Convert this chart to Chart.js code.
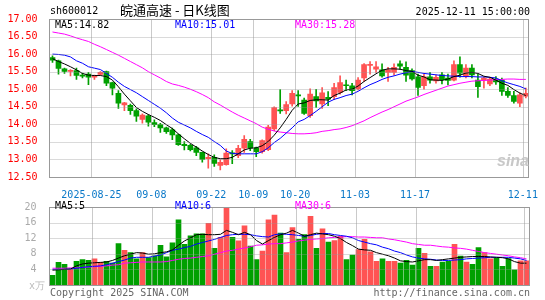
<!DOCTYPE html>
<html>
<head>
<meta charset="utf-8">
<script src="https://cdn.jsdelivr.net/npm/chart.js@4.4.1/dist/chart.umd.min.js"></script>
<style>
  body { margin: 0; background: #fff; }
  #wrap { position: relative; width: 545px; height: 300px; overflow: hidden;
          font-family: "DejaVu Sans Mono", monospace; font-size: 10px; line-height: 12px; }
  #wrap canvas { position: absolute; left: 0; }
  .t { position: absolute; white-space: pre; }
</style>
</head>
<body>
<div id="wrap">
  <canvas id="kChart" width="545" height="198" style="top:0"></canvas>
  <canvas id="volChart" width="545" height="104" style="top:196px"></canvas>

  <span class="t" style="left:50px;top:5px">sh600012</span>
  <span class="t" style="left:120px;top:3px;font:13px/14px 'Noto Sans CJK SC',sans-serif">皖通高速 - 日K线图</span>
  <span class="t" style="right:15px;top:6px">2025-12-11 15:00:00</span>

  <span class="t" style="left:55px;top:19px;color:#000">MA5:14.82</span>
  <span class="t" style="left:175px;top:19px;color:#0000ff">MA10:15.01</span>
  <span class="t" style="left:295px;top:19px;color:#ff00ff">MA30:15.28</span>

  <span class="t" style="left:497px;top:152px;font:italic bold 16px/18px 'Liberation Sans',sans-serif;color:#c8c8c8">sina</span>

  <span class="t" style="left:55px;top:200px;color:#000">MA5:5</span>
  <span class="t" style="left:175px;top:200px;color:#0000ff">MA10:6</span>
  <span class="t" style="left:295px;top:200px;color:#ff00ff">MA30:6</span>

  <span class="t" style="left:29px;top:280px;color:#bbb">x万</span>
  <span class="t" style="left:50px;top:287px;color:#666">Copyright 2025 SINA.COM</span>
  <span class="t" style="right:15px;top:287px;color:#666">http://finance.sina.com.cn</span>
</div>

<script>
// trading days shown, 2025-08-14 .. 2025-12-11
const days = [
  '08-14','08-15','08-18','08-19','08-20','08-21','08-22','08-25','08-26','08-27',
  '08-28','08-29','09-01','09-02','09-03','09-04','09-05','09-08','09-09','09-10',
  '09-11','09-12','09-15','09-16','09-17','09-18','09-19','09-22','09-23','09-24',
  '09-25','09-26','09-29','09-30','10-09','10-10','10-13','10-14','10-15','10-16',
  '10-17','10-20','10-21','10-22','10-23','10-24','10-27','10-28','10-29','10-30',
  '10-31','11-03','11-04','11-05','11-06','11-07','11-10','11-11','11-12','11-13',
  '11-14','11-17','11-18','11-19','11-20','11-21','11-24','11-25','11-26','11-27',
  '11-28','12-01','12-02','12-03','12-04','12-05','12-08','12-09','12-10','12-11'
];
const tickDays = ['08-25','09-08','09-22','10-09','10-20','11-03','11-17','12-11'];
const tickText = ['2025-08-25','09-08','09-22','10-09','10-20','11-03','11-17','12-11'];
const priceLines = [13, 13.5, 14, 14.5, 15, 15.5, 16, 16.5];
const volLines = [4, 8, 12, 16];

const opens = [
  15.90,15.81,15.58,15.51,15.53,15.40,15.43,15.34,15.42,15.50,
  15.19,14.88,14.55,14.54,14.39,14.14,14.24,14.05,13.99,13.90,
  13.84,13.70,13.43,13.40,13.33,13.20,13.02,13.06,12.83,12.85,
  13.19,13.11,13.32,13.51,13.33,13.22,13.28,13.87,14.41,14.39,
  14.58,14.83,14.69,14.25,14.79,14.58,14.77,14.79,14.91,15.12,
  15.10,15.01,15.32,15.68,15.57,15.55,15.48,15.48,15.72,15.62,
  15.53,15.35,15.10,15.35,15.24,15.41,15.32,15.26,15.70,15.36,
  15.60,15.26,15.26,15.15,15.29,15.26,14.94,14.82,14.60,14.80
];
const closes = [
  15.83,15.59,15.51,15.53,15.39,15.37,15.34,15.39,15.48,15.17,
  15.03,14.60,14.61,14.39,14.23,14.26,14.06,13.99,13.90,13.79,
  13.70,13.42,13.39,13.28,13.20,13.00,13.06,12.89,12.92,13.18,
  13.16,13.32,13.57,13.33,13.22,13.54,13.92,14.48,14.38,14.56,
  14.88,14.81,14.31,14.86,14.67,14.90,14.72,15.05,15.19,15.10,
  14.96,15.26,15.70,15.70,15.64,15.38,15.55,15.62,15.66,15.40,
  15.29,15.05,15.35,15.26,15.34,15.27,15.25,15.70,15.46,15.60,
  15.41,15.07,15.32,15.29,15.21,14.94,14.82,14.65,14.84,14.88
];
const highs = [
  15.95,15.83,15.60,15.56,15.60,15.46,15.48,15.40,15.50,15.52,
  15.20,14.96,14.63,14.58,14.44,14.30,14.28,14.13,14.03,13.92,
  13.89,13.72,13.51,13.43,13.37,13.21,13.16,13.13,12.99,13.30,
  13.25,13.40,13.68,13.57,13.35,13.56,13.97,14.50,14.99,14.65,
  14.96,14.96,14.75,15.01,15.00,15.05,14.93,15.17,15.38,15.26,
  15.17,15.33,15.73,15.79,15.79,15.72,15.62,15.72,15.81,15.78,
  15.58,15.43,15.43,15.48,15.40,15.48,15.43,15.81,15.92,15.70,
  15.70,15.43,15.34,15.34,15.36,15.32,15.05,14.94,14.90,15.03
];
const lows = [
  15.76,15.43,15.45,15.38,15.28,15.32,15.13,15.28,15.40,15.10,
  14.84,14.45,14.39,14.28,14.08,14.03,13.95,13.93,13.77,13.74,
  13.56,13.40,13.27,13.24,13.11,12.92,12.75,12.80,12.70,12.84,
  12.88,13.05,13.20,13.25,13.08,13.18,13.25,13.82,14.31,14.30,
  14.52,14.51,14.28,14.20,14.48,14.45,14.53,14.70,14.86,14.96,
  14.84,14.98,15.22,15.43,15.48,15.34,15.22,15.40,15.57,15.22,
  15.26,14.82,15.00,15.17,15.17,15.15,15.12,15.24,15.34,15.32,
  15.32,14.77,15.03,15.10,15.14,14.82,14.77,14.60,14.50,14.75
];
const priceMa5 = [
  15.87,15.79,15.72,15.64,15.55,15.45,15.40,15.39,15.39,15.36,
  15.26,15.07,14.86,14.67,14.48,14.37,14.28,14.20,14.11,13.99,
  13.88,13.73,13.59,13.46,13.35,13.24,13.14,13.06,13.02,13.02,
  13.06,13.16,13.27,13.32,13.33,13.39,13.51,13.69,13.90,14.14,
  14.40,14.58,14.61,14.68,14.70,14.70,14.69,14.82,14.89,14.98,
  15.00,15.09,15.22,15.33,15.44,15.54,15.58,15.58,15.57,15.53,
  15.51,15.40,15.35,15.27,15.26,15.25,15.29,15.36,15.40,15.46,
  15.48,15.45,15.37,15.34,15.26,15.17,15.11,14.99,14.89,14.82
];
const priceMa10 = [
  16.00,15.99,15.97,15.92,15.81,15.74,15.64,15.60,15.56,15.45,
  15.34,15.20,15.08,14.99,14.90,14.79,14.68,14.57,14.46,14.33,
  14.18,14.06,13.98,13.90,13.80,13.71,13.63,13.51,13.40,13.24,
  13.17,13.16,13.16,13.16,13.16,13.22,13.33,13.48,13.60,13.75,
  13.90,14.07,14.14,14.25,14.37,14.50,14.63,14.71,14.76,14.82,
  14.86,14.94,15.04,15.13,15.20,15.28,15.34,15.38,15.43,15.47,
  15.51,15.48,15.45,15.43,15.41,15.39,15.38,15.37,15.36,15.36,
  15.36,15.35,15.35,15.34,15.32,15.24,15.18,15.13,15.08,15.01
];
const priceMa30 = [
  16.63,16.60,16.57,16.52,16.46,16.41,16.36,16.28,16.21,16.13,
  16.05,15.97,15.88,15.79,15.70,15.61,15.50,15.41,15.32,15.22,
  15.15,15.11,15.06,15.00,14.93,14.85,14.76,14.64,14.55,14.45,
  14.35,14.26,14.18,14.10,14.02,13.92,13.86,13.81,13.78,13.76,
  13.74,13.73,13.73,13.74,13.76,13.80,13.82,13.85,13.87,13.91,
  13.96,14.03,14.10,14.19,14.27,14.35,14.42,14.50,14.58,14.66,
  14.72,14.78,14.85,14.91,14.97,15.03,15.09,15.13,15.17,15.20,
  15.23,15.24,15.25,15.26,15.27,15.28,15.29,15.29,15.28,15.28
];

// volume in 万手
const volumes = [
   2.5, 5.8, 5.3, 4.0, 6.1, 6.5, 6.3, 6.7, 5.8, 6.1,
   5.6,10.6, 8.9, 8.3, 6.7, 8.3, 7.0, 7.5,10.2, 7.2,
  10.8,16.7,10.4,12.6,13.1,13.1,15.8, 9.4,12.2,19.8,
  12.2,11.3,15.2,10.0, 6.5, 8.7,16.7,17.9,13.3, 8.3,
  14.7,11.7,12.9,17.6, 9.4,14.4,11.0,11.4,12.5, 6.5,
   7.7, 9.1,11.7, 8.5, 6.1, 6.7, 6.1, 6.1, 5.6, 6.3,
   5.1, 9.4, 8.1, 4.8, 4.8, 5.9, 6.1,10.4, 7.4, 5.9,
   5.3, 9.6, 8.3, 6.7, 6.9, 4.8, 6.8, 3.9, 6.2, 6.2
];
const volMa5 = [
  3.8,3.9,4.0,4.1,4.9,5.4,5.6,5.7,5.8,5.9,
  6.3,6.9,7.5,7.9,8.3,8.2,7.9,8.0,8.3,8.5,
  9.0,10.2,11.3,12.1,12.9,13.0,12.9,12.9,13.0,14.0,
  13.5,12.9,13.5,12.9,11.4,10.5,11.4,12.2,12.9,13.3,
  14.0,13.3,12.5,12.9,13.3,13.1,12.9,12.5,11.9,10.9,
  10.1,9.2,9.0,8.9,8.3,7.9,7.5,6.9,6.2,6.0,
  5.9,6.2,6.5,6.5,6.3,6.5,6.7,6.9,7.1,7.2,
  7.3,7.3,7.3,7.2,7.1,7.0,6.7,6.0,5.6,5.6
];
const volMa10 = [
  4.0,4.0,4.0,4.1,4.3,4.5,4.7,4.8,4.9,5.2,
  5.6,6.0,6.4,6.9,7.1,7.1,7.1,7.4,7.7,8.3,
  8.9,9.2,9.6,9.9,10.5,10.9,11.3,11.7,12.2,12.7,
  12.9,13.0,13.0,12.9,12.6,12.4,12.3,12.9,13.1,13.0,
  12.9,12.7,12.5,12.7,13.0,13.2,13.2,12.9,12.7,12.5,
  12.1,11.4,11.0,10.6,10.3,9.7,9.3,8.7,8.3,7.7,
  7.2,6.9,6.7,6.6,6.4,6.3,6.3,6.4,6.5,6.7,
  6.8,6.9,7.0,7.1,7.1,7.1,7.1,6.9,6.7,6.3
];
const volMa30 = [
  4.3,4.3,4.3,4.4,4.4,4.5,4.6,4.7,4.8,4.9,
  5.1,5.2,5.6,5.7,5.8,5.9,5.9,5.9,5.9,6.0,
  6.3,6.6,6.8,6.9,7.1,7.3,7.5,7.9,8.3,8.7,
  8.9,9.2,9.5,9.8,10.2,10.3,10.5,10.6,10.6,10.8,
  11.0,11.3,11.5,11.7,11.8,11.9,12.1,12.2,12.3,12.4,
  12.4,12.3,12.3,12.2,12.1,12.1,11.8,11.6,11.3,11.0,
  10.6,10.4,10.2,10.2,10.0,9.8,9.7,9.5,9.4,9.2,
  8.9,8.6,8.3,8.1,7.9,7.7,7.5,7.2,7.0,6.7
];

const RED = '#ff5353';
const GREEN = '#00a000';
const tickIdx = tickDays.map(d => days.indexOf(d));

function candleColor(ctx) {
  const i = ctx.dataIndex;
  return closes[i] >= opens[i] ? RED : GREEN;
}

// light value lines and date lines, then the grey box
function drawGrid(chart, lines) {
  const { ctx, chartArea: a, scales: { x, y } } = chart;
  ctx.save();
  ctx.lineWidth = 1;
  ctx.strokeStyle = 'rgba(150,150,150,0.35)';
  lines.forEach(v => {
    const py = Math.round(y.getPixelForValue(v)) + 0.5;
    ctx.beginPath();
    ctx.moveTo(a.left, py);
    ctx.lineTo(a.right, py);
    ctx.stroke();
  });
  ctx.strokeStyle = 'rgba(150,150,150,0.5)';
  tickIdx.forEach(i => {
    const px = Math.round(x.getPixelForValue(i) - 3) + 0.5;
    ctx.beginPath();
    ctx.moveTo(px, a.top);
    ctx.lineTo(px, a.bottom);
    ctx.stroke();
  });
  ctx.strokeStyle = '#999';
  ctx.strokeRect(Math.floor(a.left) + 0.5, Math.floor(a.top) + 0.5,
                 Math.round(a.right - a.left), Math.round(a.bottom - a.top));
  ctx.restore();
}

function panelPlugin(lines) {
  return {
    id: 'panelGrid',
    afterDraw(chart) { drawGrid(chart, lines); }
  };
}

function lineSet(data, color) {
  return { type: 'line', data, borderColor: color, borderWidth: 1,
           pointRadius: 0, tension: 0, order: 0 };
}

function xAxis(showLabels, height) {
  return {
    offset: true,
    grid: { display: false },
    border: { display: false },
    ticks: {
      display: showLabels,
      autoSkip: false,
      maxRotation: 0,
      minRotation: 0,
      padding: 4,
      labelOffset: -3,
      color: '#0a78c8',
      font: { family: 'DejaVu Sans Mono', size: 10 },
      callback: (v, i) => {
        const k = tickIdx.indexOf(i);
        return k >= 0 ? tickText[k] : '';
      }
    },
    afterFit: s => { s.height = height; }
  };
}

Chart.defaults.animation = false;

new Chart(document.getElementById('kChart'), {
  type: 'bar',
  data: {
    labels: days,
    datasets: [
      lineSet(priceMa5, '#000000'),
      lineSet(priceMa10, '#0000ff'),
      lineSet(priceMa30, '#ff00ff'),
      {
        data: opens.map((o, i) => [o, closes[i]]),
        backgroundColor: candleColor,
        barThickness: 5,
        minBarLength: 1,
        grouped: false,
        order: 1
      },
      {
        data: lows.map((l, i) => [l, highs[i]]),
        backgroundColor: candleColor,
        barThickness: 1,
        grouped: false,
        order: 2
      }
    ]
  },
  options: {
    responsive: false,
    devicePixelRatio: 1,
    layout: { padding: { top: 19, right: 15.5, left: 0, bottom: 0 } },
    plugins: { legend: { display: false }, tooltip: { enabled: false } },
    scales: {
      x: xAxis(true, 21),
      y: {
        min: 12.5,
        max: 17,
        grid: { display: false },
        border: { display: false },
        ticks: {
          stepSize: 0.5,
          padding: 4,
          color: '#ff0000',
          font: { family: 'DejaVu Sans Mono', size: 10 },
          callback: v => v.toFixed(2)
        },
        afterFit: s => { s.width = 49.5; }
      }
    }
  },
  plugins: [panelPlugin(priceLines)]
});

new Chart(document.getElementById('volChart'), {
  type: 'bar',
  data: {
    labels: days,
    datasets: [
      lineSet(volMa5, '#000000'),
      lineSet(volMa10, '#0000ff'),
      lineSet(volMa30, '#ff00ff'),
      {
        data: volumes,
        backgroundColor: candleColor,
        barThickness: 5,
        grouped: false,
        order: 1
      }
    ]
  },
  options: {
    responsive: false,
    devicePixelRatio: 1,
    layout: { padding: { top: 5, right: 15.5, left: 0, bottom: 0 } },
    plugins: { legend: { display: false }, tooltip: { enabled: false } },
    scales: {
      x: xAxis(false, 15),
      y: {
        min: 0,
        max: 20,
        grid: { display: false },
        border: { display: false },
        ticks: {
          stepSize: 4,
          padding: 5,
          color: '#aaa',
          font: { family: 'DejaVu Sans Mono', size: 10 },
          callback: v => v === 0 ? '' : v
        },
        afterFit: s => { s.width = 49.5; }
      }
    }
  },
  plugins: [panelPlugin(volLines)]
});
</script>
</body>
</html>
